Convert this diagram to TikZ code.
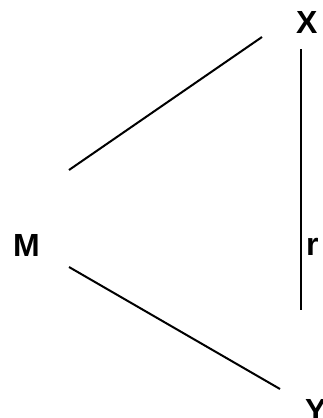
\documentclass[tikz,border=0pt]{standalone}
\usepackage{fontspec}
\setmainfont{Liberation Sans}
\usetikzlibrary{positioning}

\begin{document}
\begin{tikzpicture}[x=1pt, y=-1pt, line width=2pt,
    lbl/.style={inner sep=0pt, anchor=base west, font=\fontsize{32}{32}\selectfont\bfseries}]
    % Fix the picture size
    \useasboundingbox (0,0) rectangle (323,418);

    % Labels
    \node[lbl] (X) at (295,33) {X};
    \node[lbl] (M) at (12,256) {M};
    \node[lbl] (Y) at (304,421) {Y};
    \node[lbl] (r) at (305,255) {r};

    % End points of the sides
    \coordinate (m1) at (69,170);
    \coordinate (x1) at (262,37);
    \coordinate (m2) at (69,267);
    \coordinate (y1) at (280,389);
    \coordinate (x2) at (300.5,49);
    \coordinate (y2) at (300.5,310);

    % Draw the sides
    \draw (m1) -- (x1);
    \draw (m2) -- (y1);
    \draw (x2) -- (y2);
\end{tikzpicture}
\end{document}
